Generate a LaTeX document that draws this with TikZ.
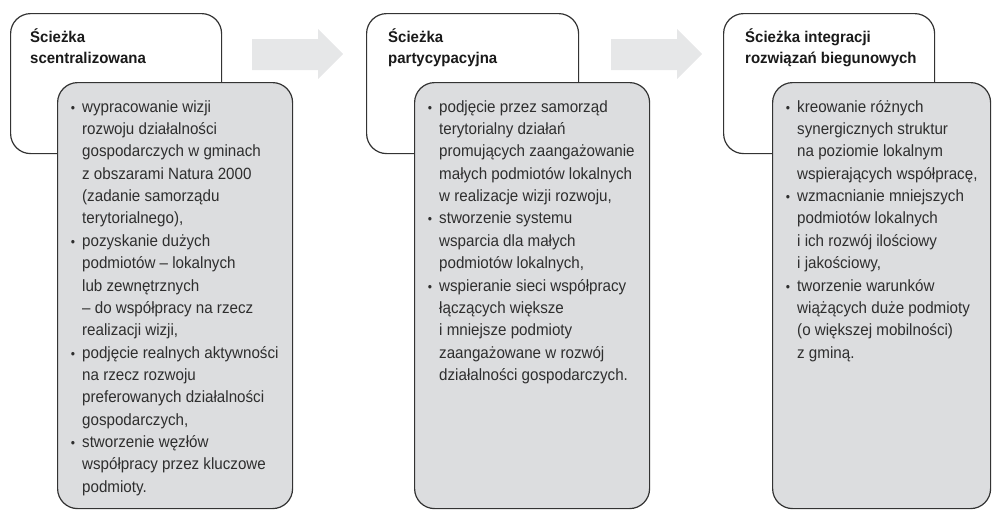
\documentclass[tikz,border=0pt]{standalone}
\usepackage{fontspec}
\setmainfont{Liberation Sans}
\newfontfamily\bodyfont{Liberation Sans}[FakeStretch=0.93]
\newfontfamily\titlefont{Liberation Sans}[FakeStretch=0.96]
\definecolor{boxline}{HTML}{333333}
\definecolor{boxgray}{HTML}{DCDDDF}
\definecolor{arrowgray}{HTML}{E6E7E8}
\definecolor{bodytext}{HTML}{2E2E2E}
\definecolor{titletext}{HTML}{1A1A1A}
\newcommand{\bl}{\makebox[0pt][r]{\fontsize{13}{13}\selectfont\textbullet\hspace{7pt}}}
\newcommand{\fs}{\rule{0pt}{16pt}}
\tikzset{
  whitebox/.style={draw=boxline, line width=1.2pt, fill=white, rounded corners=20pt, anchor=north west, inner sep=0pt},
  graybox/.style={draw=boxline, line width=1.2pt, fill=boxgray, rounded corners=20pt, anchor=north west, inner sep=0pt},
  titletxt/.style={anchor=north west, inner sep=0pt, align=left, text=titletext, font=\titlefont\fontsize{15.6}{21.6}\selectfont\bfseries},
  bodytxt/.style={anchor=north west, inner sep=0pt, align=left, text=bodytext, font=\bodyfont\fontsize{16.3}{22.35}\selectfont},
  blockarrow/.style={fill=arrowgray, draw=none}
}
\begin{document}
\begin{tikzpicture}[x=1pt,y=-1pt]
\useasboundingbox (0,0) rectangle (992,509);
% block arrows
\fill[blockarrow] (252,39) -- (318,39) -- (318,29) -- (343,54) -- (318,79) -- (318,70) -- (252,70) -- cycle;
\fill[blockarrow] (611,39) -- (677,39) -- (677,29) -- (702,54) -- (677,79) -- (677,70) -- (611,70) -- cycle;
% white boxes
\node[whitebox, minimum width=211pt, minimum height=140pt] (w1) at (10,13) {};
\node[whitebox, minimum width=212pt, minimum height=140pt] (w2) at (366,13) {};
\node[whitebox, minimum width=211pt, minimum height=140pt] (w3) at (723,13) {};
% gray boxes
\node[graybox, minimum width=235pt, minimum height=426pt] (g1) at (57,82) {};
\node[graybox, minimum width=235pt, minimum height=426pt] (g2) at (414,82) {};
\node[graybox, minimum width=218pt, minimum height=426pt] (g3) at (772,82) {};
% titles
\node[titletxt] (t1) at (30,42-16) {\fs Ścieżka\\scentralizowana};
\node[titletxt] (t2) at (388,42-16) {\fs Ścieżka\\partycypacyjna};
\node[titletxt] (t3) at (745,42-16) {\fs Ścieżka integracji\\rozwiązań biegunowych};
% body texts
\node[bodytxt] (b1) at (82,112-16) {\fs\bl wypracowanie wizji\\
rozwoju działalności\\
gospodarczych w gminach\\
z obszarami Natura 2000\\
(zadanie samorządu\\
terytorialnego),\\
\bl pozyskanie dużych\\
podmiotów – lokalnych\\
lub zewnętrznych\\
– do współpracy na rzecz\\
realizacji wizji,\\
\bl podjęcie realnych aktywności\\
na rzecz rozwoju\\
preferowanych działalności\\
gospodarczych,\\
\bl stworzenie węzłów\\
współpracy przez kluczowe\\
podmioty.};
\node[bodytxt] (b2) at (439,112-16) {\fs\bl podjęcie przez samorząd\\
terytorialny działań\\
promujących zaangażowanie\\
małych podmiotów lokalnych\\
w realizacje wizji rozwoju,\\
\bl stworzenie systemu\\
wsparcia dla małych\\
podmiotów lokalnych,\\
\bl wspieranie sieci współpracy\\
łączących większe\\
i mniejsze podmioty\\
zaangażowane w rozwój\\
działalności gospodarczych.};
\node[bodytxt] (b3) at (797,112-16) {\fs\bl kreowanie różnych\\
synergicznych struktur\\
na poziomie lokalnym\\
wspierających współpracę,\\
\bl wzmacnianie mniejszych\\
podmiotów lokalnych\\
i ich rozwój ilościowy\\
i jakościowy,\\
\bl tworzenie warunków\\
wiążących duże podmioty\\
(o większej mobilności)\\
z gminą.};
\end{tikzpicture}
\end{document}
